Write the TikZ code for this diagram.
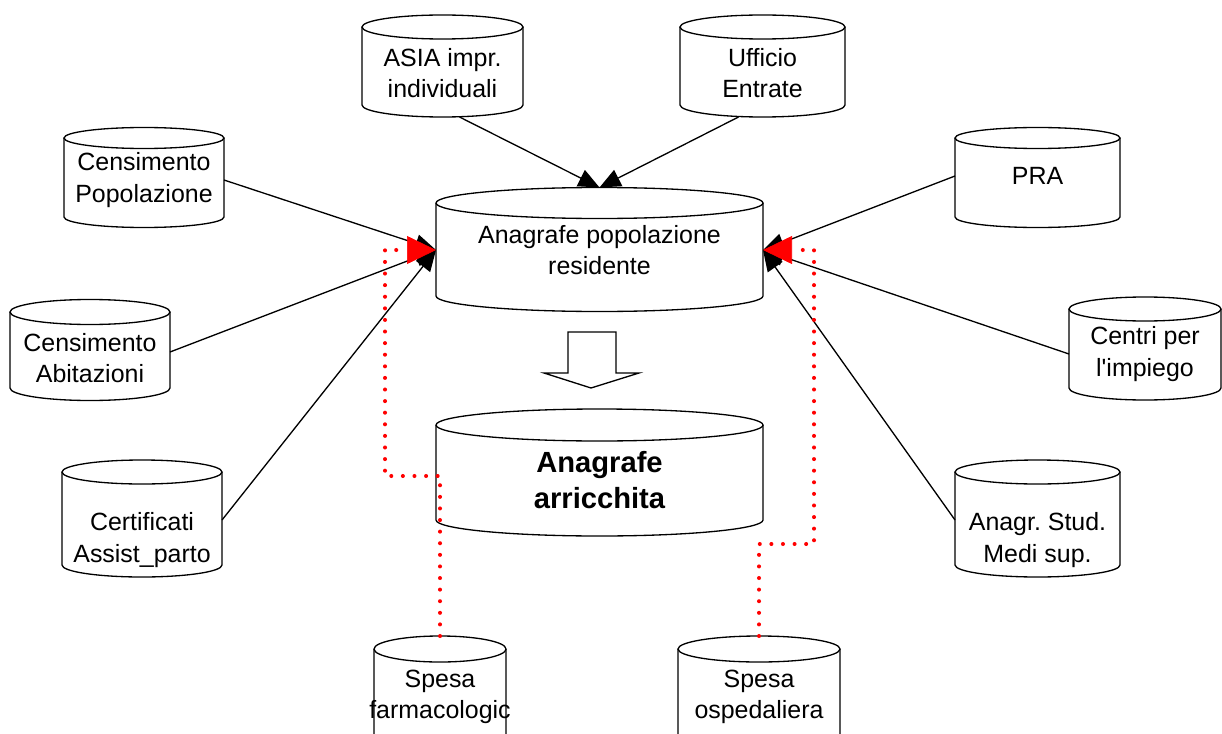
\documentclass[tikz,border=0pt]{standalone}
\usepackage{fontspec}
\setmainfont{Liberation Sans}
\usepackage{tikz}
\usetikzlibrary{arrows.meta}

\tikzset{
  dbline/.style={draw=black, line width=0.75pt},
  dbtext/.style={align=center, inner sep=0pt, font=\fontsize{14.2}{18}\selectfont},
  bigtext/.style={font=\fontsize{16.6}{20.5}\selectfont\bfseries},
  feed/.style={draw=black, line width=0.75pt, -{Triangle[length=0.42cm,width=0.36cm]}},
  dotlink/.style={draw=red, line width=2.3pt, line cap=round, dash pattern=on 0pt off 6.6pt,
    -{Triangle[length=0.58cm,width=0.56cm,fill=red,line width=0.4pt]}}
}

% cylinder: [style]{name}{cx}{top y}{bottom y}{rx}{ry}{text y}{text}
\newcommand{\dbcyl}[9][]{%
  \draw[dbline] (#3-#6,#4) -- (#3-#6,#5) arc[start angle=180,end angle=0,x radius=#6,y radius=#7] -- (#3+#6,#4);
  \draw[dbline] (#3,#4) ellipse [x radius=#6,y radius=#7];
  \coordinate (#2-n) at (#3,#4-#7);
  \coordinate (#2-s) at (#3,#5+#7);
  \coordinate (#2-e) at (#3+#6,#8);
  \coordinate (#2-w) at (#3-#6,#8);
  \node[dbtext,#1] (#2) at (#3,#8) {#9};
}

\begin{document}
\frenchspacing
\begin{tikzpicture}[x=0.02cm,y=-0.02cm]
            \useasboundingbox (0,0) rectangle (1222,733);
            \clip (0,0) rectangle (1222,733);

            \dbcyl{asia}{442.5}{27}{105}{80.5}{12}{73}{ASIA impr.\\individuali}
            \dbcyl{entrate}{762.5}{27}{105}{82.5}{12}{73}{Ufficio\\Entrate}
            \dbcyl{cenpop}{144}{138}{217}{80}{10.5}{180}{Censimento\\Popolazione}
            \dbcyl{pra}{1037.5}{138}{217}{82.5}{10.5}{176}{PRA}
            \dbcyl{cenab}{90}{312}{388}{80}{12.5}{358}{Censimento\\Abitazioni}
            \dbcyl{centri}{1145}{309}{388}{76}{12}{354}{Centri per\\l\textquotesingle impiego}
            \dbcyl{cert}{142}{472}{565}{80}{12}{540}{Certificati\\Assist\_parto}
            \dbcyl{stud}{1037.5}{472}{565}{82.5}{12}{540}{Anagr. Stud.\\Medi sup.}
            \dbcyl{anag}{599.5}{203}{296}{163.5}{15.5}{250}{Anagrafe popolazione\\residente}
            \dbcyl[bigtext]{arr}{599.5}{425}{520}{163.5}{16}{480}{Anagrafe\\arricchita}
            \dbcyl{farm}{440}{649}{745}{66}{13}{697}{Spesa\\farmacologic}
            \dbcyl{osped}{759}{649}{745}{81}{13}{697}{Spesa\\ospedaliera}

            \draw[dbline] (568,332) -- (616,332) -- (616,373) -- (639,373) -- (591,388)
              -- (544,373) -- (568,373) -- cycle;

            \draw[feed] ([xshift=0.34cm]asia-s) -- (anag-n);
            \draw[feed] ([xshift=-0.48cm]entrate-s) -- (anag-n);
            \draw[feed] (cenpop-e) -- (anag-w);
            \draw[feed] ([yshift=0.12cm]cenab-e) -- (anag-w);
            \draw[feed] ([yshift=0.4cm]cert-e) -- (anag-w);
            \draw[feed] (pra-w) -- (anag-e);
            \draw[feed] (centri-w) -- (anag-e);
            \draw[feed] ([yshift=0.4cm]stud-w) -- (anag-e);

            \draw[dotlink] (farm-n) |- (385,476) |- (anag-w);
            \draw[dotlink] (osped-n) |- (814,544) |- (anag-e);
\end{tikzpicture}
\end{document}
